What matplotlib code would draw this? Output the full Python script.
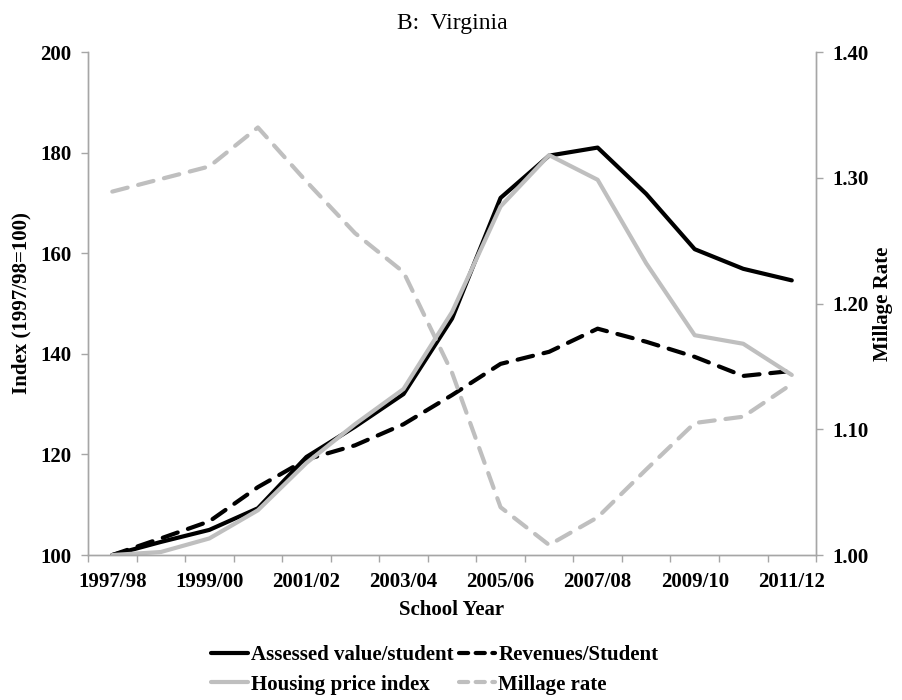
import matplotlib

matplotlib.use("Agg")

import matplotlib.pyplot as plt
from matplotlib.lines import Line2D
import numpy as np

plt.rcParams["font.family"] = ["Liberation Serif", "DejaVu Serif"]

school_years = [
    "1997/98", "1998/99", "1999/00", "2000/01", "2001/02", "2002/03", "2003/04",
    "2004/05", "2005/06", "2006/07", "2007/08", "2008/09", "2009/10", "2010/11",
    "2011/12",
]
assessed_value = [100, 102.6, 105.0, 109.3, 119.5, 125.5, 132.0, 147.0,
                  171.0, 179.4, 181.0, 171.8, 160.8, 156.9, 154.6]
revenues = [100, 103.3, 106.7, 113.5, 119.0, 121.8, 126.0, 131.8,
            138.0, 140.4, 145.0, 142.4, 139.4, 135.6, 136.6]
housing_price = [100, 100.6, 103.3, 108.9, 118.3, 126.0, 133.0, 148.3,
                 169.3, 179.5, 174.6, 158.0, 143.7, 142.0, 135.8]
millage_rate = [1.289, 1.299, 1.309, 1.340, 1.297, 1.256, 1.225, 1.145,
                1.038, 1.008, 1.030, 1.068, 1.105, 1.110, 1.136]

BLACK = "#000000"
GREY = "#BFBFBF"
SPINE = "#A6A6A6"
LW = 3.0
DASH = (3.8, 2.6)
FS = 15

x = np.arange(len(school_years))

fig = plt.figure(figsize=(9.02, 7.0), dpi=100)
ax = fig.add_axes([0.0976, 0.2071, 0.8071, 0.7186])
ax2 = ax.twinx()

ax.plot(x, assessed_value, color=BLACK, lw=LW, solid_capstyle="round",
        solid_joinstyle="round")
ax.plot(x, revenues, color=BLACK, lw=LW, dashes=DASH, dash_capstyle="round",
        dash_joinstyle="round")
ax.plot(x, housing_price, color=GREY, lw=LW, solid_capstyle="round",
        solid_joinstyle="round")
ax2.plot(x, millage_rate, color=GREY, lw=LW, dashes=DASH, dash_capstyle="round",
         dash_joinstyle="round")

ax.set_xlim(-0.5, len(school_years) - 0.5)
ax.set_ylim(100, 200)
ax2.set_ylim(1.00, 1.40)
ax.set_yticks(np.arange(100, 201, 20))
ax2.set_yticks(np.arange(1.0, 1.41, 0.1))
ax2.set_yticklabels([f"{v:.2f}" for v in np.arange(1.0, 1.41, 0.1)])

ax.set_xticks(x[::2])
ax.set_xticklabels(school_years[::2])
ax.set_xticks(np.arange(-0.5, len(school_years), 1), minor=True)
ax.tick_params(axis="x", which="major", length=0, pad=12)
ax.tick_params(axis="x", which="minor", length=5, width=1, color=SPINE)

for a in (ax, ax2):
    a.spines["top"].set_visible(False)
    for side in ("left", "right", "bottom"):
        a.spines[side].set_color(SPINE)
        a.spines[side].set_linewidth(1.0)
    a.tick_params(axis="y", length=5, width=1, color=SPINE, pad=7)
    for lab in a.get_xticklabels() + a.get_yticklabels():
        lab.set_fontsize(FS)
        lab.set_fontweight("bold")

ax.set_xlabel("School Year", fontsize=FS, fontweight="bold", labelpad=6)
ax.set_ylabel("Index (1997/98=100)", fontsize=FS, fontweight="bold", labelpad=6)
ax2.set_ylabel("Millage Rate", fontsize=FS, fontweight="bold", labelpad=3)

fig.text(0.502, 0.966, "B:  Virginia", ha="center", va="center", fontsize=17)

handles = [
    Line2D([], [], color=BLACK, lw=LW, solid_capstyle="round"),
    Line2D([], [], color=GREY, lw=LW, solid_capstyle="round"),
    Line2D([], [], color=BLACK, lw=LW, dashes=(2.2, 1.8), dash_capstyle="round"),
    Line2D([], [], color=GREY, lw=LW, dashes=(2.2, 1.8), dash_capstyle="round"),
]
labels = ["Assessed value/student", "Housing price index",
          "Revenues/Student", "Millage rate"]
fig.legend(handles, labels, loc="center", bbox_to_anchor=(0.482, 0.043),
           ncol=2, frameon=False, handlelength=1.75, handletextpad=0.15,
           columnspacing=0.25, labelspacing=0.45,
           prop={"size": FS, "weight": "bold"})

fig.savefig("out.png", dpi=100)
